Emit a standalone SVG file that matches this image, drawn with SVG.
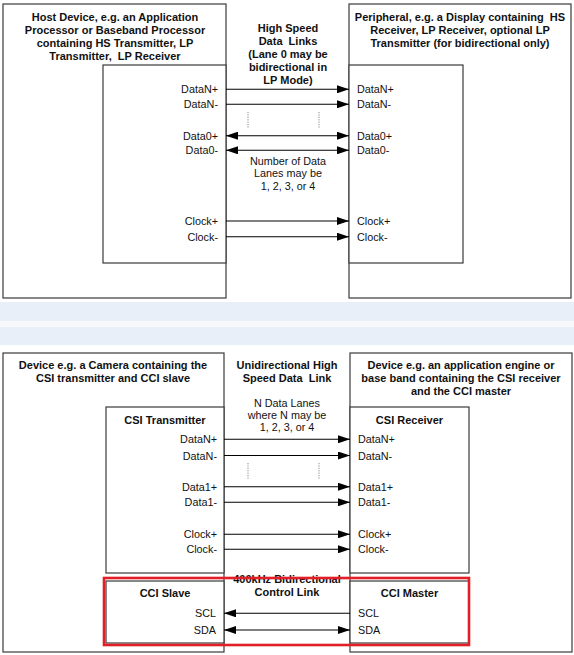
<svg xmlns="http://www.w3.org/2000/svg" width="574" height="655" viewBox="0 0 574 655" xml:space="preserve">
<defs>
<marker id="ah" viewBox="0 0 12 8" refX="12" refY="4" markerWidth="12" markerHeight="8" markerUnits="userSpaceOnUse" orient="auto-start-reverse">
<path d="M0,0 L12,4 L0,8 z" fill="#000"/>
</marker>
<style>
.box{fill:#fff;stroke:#3a3a3a;stroke-width:1.2}
.t{font-family:"Liberation Sans",Arial,sans-serif;fill:#111;white-space:pre}
.b{font-weight:bold;font-size:11px;text-anchor:middle}
.r{font-size:10.8px}
.e{text-anchor:end}
.m{text-anchor:middle}
.ln{stroke:#000;stroke-width:1.1;fill:none}
.one{marker-end:url(#ah)}
.two{marker-start:url(#ah);marker-end:url(#ah)}
.dot{stroke:#888;stroke-width:1;stroke-dasharray:1.2,1.2}
</style>
</defs>
<rect width="574" height="655" fill="#fff"/>
<rect x="0" y="302" width="574" height="43" fill="#E9EFF8"/>
<rect x="0" y="321" width="574" height="6" fill="#F6F8FC"/>
<g id="host">
<rect class="box" x="3" y="4" width="223" height="294"/>
<text class="t b" x="115" y="20.5">Host Device, e.g. an Application</text>
<text class="t b" x="115" y="33.5">Processor or Baseband Processor</text>
<text class="t b" x="115" y="46.5">containing HS Transmitter, LP</text>
<text class="t b" x="115" y="59.5">Transmitter,  LP Receiver</text>
</g>
<g id="host-inner">
<rect class="box" x="103" y="65" width="123" height="198"/>
<text class="t r e" x="218" y="93">DataN+</text>
<text class="t r e" x="218" y="108">DataN-</text>
<text class="t r e" x="218" y="139.5">Data0+</text>
<text class="t r e" x="218" y="154">Data0-</text>
<text class="t r e" x="218" y="225">Clock+</text>
<text class="t r e" x="218" y="240.5">Clock-</text>
</g>
<g id="peripheral">
<rect class="box" x="349" y="4" width="222" height="294"/>
<text class="t b" x="460" y="20.5">Peripheral, e.g. a Display containing  HS</text>
<text class="t b" x="460" y="33.5">Receiver, LP Receiver, optional LP</text>
<text class="t b" x="460" y="46.5">Transmitter (for bidirectional only)</text>
</g>
<g id="peripheral-inner">
<rect class="box" x="349" y="65" width="114" height="198"/>
<text class="t r" x="357" y="93">DataN+</text>
<text class="t r" x="357" y="108">DataN-</text>
<text class="t r" x="357" y="139.5">Data0+</text>
<text class="t r" x="357" y="154">Data0-</text>
<text class="t r" x="357" y="225">Clock+</text>
<text class="t r" x="357" y="240.5">Clock-</text>
</g>
<g id="top-link-label">
<text class="t b" x="288" y="32">High Speed</text>
<text class="t b" x="288" y="45">Data  Links</text>
<text class="t b" x="288" y="58">(Lane 0 may be</text>
<text class="t b" x="288" y="71">bidirectional in</text>
<text class="t b" x="288" y="84">LP Mode)</text>
<text class="t r m" x="288" y="164.5">Number of Data</text>
<text class="t r m" x="288" y="177">Lanes may be</text>
<text class="t r m" x="288" y="189.5">1, 2, 3, or 4</text>
</g>
<g id="camera">
<rect class="box" x="3" y="353" width="221" height="299"/>
<text class="t b" x="113" y="368.5">Device e.g. a Camera containing the</text>
<text class="t b" x="113" y="381.5">CSI transmitter and CCI slave</text>
</g>
<g id="csi-tx">
<rect class="box" x="106" y="407" width="118" height="166"/>
<text class="t b" x="165" y="424">CSI Transmitter</text>
<text class="t r e" x="217" y="443">DataN+</text>
<text class="t r e" x="217" y="459.5">DataN-</text>
<text class="t r e" x="217" y="490.5">Data1+</text>
<text class="t r e" x="217" y="506">Data1-</text>
<text class="t r e" x="217" y="538">Clock+</text>
<text class="t r e" x="217" y="553">Clock-</text>
</g>
<g id="cci-slave">
<rect class="box" x="106" y="581" width="118" height="62"/>
<text class="t b" x="165" y="597">CCI Slave</text>
<text class="t r e" x="216" y="617">SCL</text>
<text class="t r e" x="216" y="634">SDA</text>
</g>
<g id="appengine">
<rect class="box" x="350" y="353" width="222" height="299"/>
<text class="t b" x="461" y="369">Device e.g. an application engine or</text>
<text class="t b" x="461" y="382">base band containing the CSI receiver</text>
<text class="t b" x="461" y="395">and the CCI master</text>
</g>
<g id="csi-rx">
<rect class="box" x="350" y="407" width="119" height="166"/>
<text class="t b" x="409.5" y="424">CSI Receiver</text>
<text class="t r" x="358" y="443">DataN+</text>
<text class="t r" x="358" y="459.5">DataN-</text>
<text class="t r" x="358" y="490.5">Data1+</text>
<text class="t r" x="358" y="506">Data1-</text>
<text class="t r" x="358" y="538">Clock+</text>
<text class="t r" x="358" y="553">Clock-</text>
</g>
<g id="cci-master">
<rect class="box" x="350" y="581" width="119" height="62"/>
<text class="t b" x="409.5" y="597">CCI Master</text>
<text class="t r" x="358" y="617">SCL</text>
<text class="t r" x="358" y="634">SDA</text>
</g>
<g id="bottom-link-label">
<text class="t b" x="287" y="368.5">Unidirectional High</text>
<text class="t b" x="287" y="381.5">Speed Data  Link</text>
<text class="t r m" x="287" y="407">N Data Lanes</text>
<text class="t r m" x="287" y="419">where N may be</text>
<text class="t r m" x="287" y="431">1, 2, 3, or 4</text>
<text class="t b" x="287" y="583">400kHz Bidirectional</text>
<text class="t b" x="287" y="596">Control Link</text>
</g>
<g id="cci-highlight">
<rect x="104" y="578" width="365" height="67" fill="none" stroke="#E41E26" stroke-width="2.6"/>
</g>
<g id="connectors">
<line class="ln one" x1="226" y1="89.3" x2="349" y2="89.3"/>
<line class="ln one" x1="226" y1="104.3" x2="349" y2="104.3"/>
<line class="ln two" x1="226" y1="135.7" x2="349" y2="135.7"/>
<line class="ln two" x1="226" y1="150.3" x2="349" y2="150.3"/>
<line class="ln one" x1="226" y1="221" x2="349" y2="221"/>
<line class="ln one" x1="226" y1="236.7" x2="349" y2="236.7"/>
<line class="dot" x1="248" y1="112" x2="248" y2="128"/>
<line class="dot" x1="319" y1="112" x2="319" y2="128"/>
<line class="ln one" x1="224" y1="439.3" x2="350" y2="439.3"/>
<line class="ln one" x1="224" y1="455.5" x2="350" y2="455.5"/>
<line class="ln one" x1="224" y1="486.7" x2="350" y2="486.7"/>
<line class="ln one" x1="224" y1="502.3" x2="350" y2="502.3"/>
<line class="ln one" x1="224" y1="534.3" x2="350" y2="534.3"/>
<line class="ln one" x1="224" y1="549.3" x2="350" y2="549.3"/>
<line class="dot" x1="248" y1="463" x2="248" y2="479"/>
<line class="dot" x1="319" y1="463" x2="319" y2="479"/>
<line class="ln one" x1="350" y1="613.3" x2="224" y2="613.3"/>
<line class="ln two" x1="224" y1="630" x2="350" y2="630"/>
</g>
</svg>
